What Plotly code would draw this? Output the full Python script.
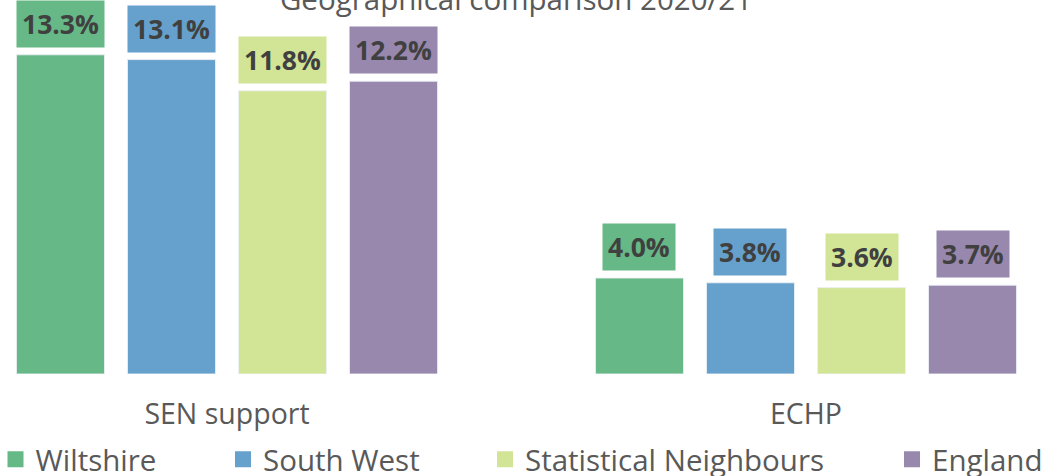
import plotly.graph_objects as go

categories = ["SEN support", "ECHP"]
series_names = ["Wiltshire", "South West", "Statistical Neighbours", "England"]
wiltshire = [13.3, 4.0]
south_west = [13.1, 3.8]
stat_neighbours = [11.8, 3.6]
england = [12.2, 3.7]
title_text = "Geographical comparison 2020/21"

series_values = [wiltshire, south_west, stat_neighbours, england]
colors = ["#66B886", "#66A0CC", "#D2E496", "#9888AE"]
legend_x_px = [17.5, 245, 507, 914]

W, H = 1048, 476
FONT = "Open Sans"
GRAY = "#595959"

bargap = 0.233
bargroupgap = 0.207
n = len(series_names)
stride = (1 - bargap) / n

fig = go.Figure()
legend_keys = ["legend", "legend2", "legend3", "legend4"]
for i, (name, vals, col) in enumerate(zip(series_names, series_values, colors)):
    fig.add_trace(go.Bar(
        x=categories, y=vals, name=name, showlegend=False,
        marker=dict(color=col, line=dict(color="rgba(235,240,245,0.9)", width=1)),
    ))
    fig.add_trace(go.Scatter(
        x=[None], y=[None], mode="markers", name=name,
        marker=dict(symbol="square", color=col, size=18),
        legend=legend_keys[i], showlegend=True,
    ))
    for ci, v in enumerate(vals):
        fig.add_annotation(
            x=ci + (i - (n - 1) / 2) * stride, y=v, xref="x", yref="y",
            text=f"<b>{v:.1f}%</b>", showarrow=False,
            xanchor="center", yanchor="bottom", yshift=7,
            bgcolor=col, borderpad=5,
            font=dict(family=FONT, size=26.5, color="#404040"),
        )

layout_legends = {}
for i, key in enumerate(legend_keys):
    layout_legends[key] = dict(
        x=(legend_x_px[i] - 17) / W, xref="container", xanchor="left",
        y=1 - 459.5 / H, yref="container", yanchor="middle",
        orientation="h", bgcolor="rgba(0,0,0,0)", indentation=-5,
        font=dict(family=FONT, size=29.5, color=GRAY),
        itemsizing="trace",
    )

x0 = 227.0
step = 579.0
fig.update_layout(
    width=W, height=H,
    margin=dict(l=0, r=0, t=0, b=102, autoexpand=False),
    paper_bgcolor="white", plot_bgcolor="white",
    barmode="group", bargap=bargap, bargroupgap=bargroupgap,
    title=dict(text=title_text, x=516 / W, xanchor="center",
               y=1 - 10 / H, yanchor="bottom", yref="container",
               font=dict(family=FONT, size=29.5, color=GRAY)),
    xaxis=dict(range=[-x0 / step, (W - x0) / step], showgrid=False, zeroline=False,
               showline=False, ticks="", ticklabelstandoff=20,
               tickfont=dict(family=FONT, size=28.5, color=GRAY)),
    yaxis=dict(range=[0, 374 / 24], visible=False, showgrid=False, zeroline=False),
    **layout_legends,
)

fig.write_html("out.html", config={"displayModeBar": False},
               post_script="document.body.style.margin='0';document.body.style.overflow='hidden';")
